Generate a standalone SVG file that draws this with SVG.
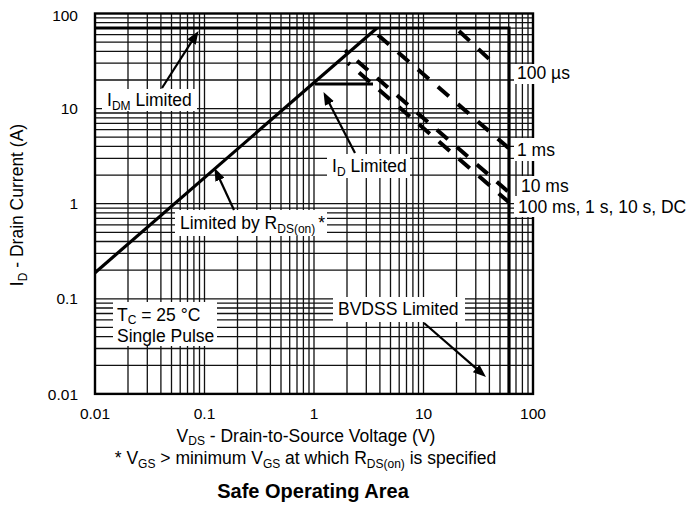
<svg xmlns="http://www.w3.org/2000/svg" width="687" height="508" viewBox="0 0 687 508">
<defs>
<style>
.g{stroke:#111;stroke-width:1.3;fill:none}
.bd{stroke:#000;stroke-width:2.4;fill:none}
.t{font-family:"Liberation Sans",Arial,Helvetica,sans-serif;font-size:17.5px;fill:#000}
.tk{font-family:"Liberation Sans",Arial,Helvetica,sans-serif;font-size:15.5px;fill:#000}
.s{font-size:12px}
.box{fill:#fff;stroke:none}
.cv{stroke:#000;stroke-width:3.2;fill:none}
.ds{stroke:#000;stroke-width:4;fill:none;stroke-dasharray:14.5 11.9}
.ar{stroke:#000;stroke-width:2.2;fill:none;marker-end:url(#ah)}
</style>
<marker id="ah" markerUnits="userSpaceOnUse" markerWidth="14" markerHeight="10" refX="8" refY="5" orient="auto"><path d="M0,0 L13,5 L0,10 z" fill="#000"/></marker>
</defs>
<rect width="687" height="508" fill="#fff"/>
<g id="grid">
<path class="g" d="M128,13.5V393.9M147.3,13.5V393.9M160.9,13.5V393.9M171.5,13.5V393.9M180.2,13.5V393.9M187.5,13.5V393.9M193.9,13.5V393.9M199.5,13.5V393.9M204.5,13.5V393.9M237.5,13.5V393.9M256.8,13.5V393.9M270.4,13.5V393.9M281,13.5V393.9M289.7,13.5V393.9M297,13.5V393.9M303.4,13.5V393.9M309,13.5V393.9M314,13.5V393.9M347,13.5V393.9M366.3,13.5V393.9M379.9,13.5V393.9M390.5,13.5V393.9M399.2,13.5V393.9M406.5,13.5V393.9M412.9,13.5V393.9M418.5,13.5V393.9M423.5,13.5V393.9M456.5,13.5V393.9M475.8,13.5V393.9M489.4,13.5V393.9M500,13.5V393.9M508.7,13.5V393.9M516,13.5V393.9M522.4,13.5V393.9M528,13.5V393.9"/>
<path class="g" d="M95,365.3H533M95,348.5H533M95,336.6H533M95,327.4H533M95,319.9H533M95,313.5H533M95,308H533M95,303.2H533M95,298.8H533M95,270.2H533M95,253.4H533M95,241.5H533M95,232.3H533M95,224.8H533M95,218.4H533M95,212.9H533M95,208.1H533M95,203.7H533M95,175.1H533M95,158.3H533M95,146.4H533M95,137.2H533M95,129.7H533M95,123.3H533M95,117.8H533M95,113H533M95,108.6H533M95,80H533M95,63.2H533M95,51.3H533M95,42.1H533M95,34.6H533M95,28.2H533M95,22.7H533M95,17.9H533"/>
<rect class="bd" x="95" y="13.5" width="438" height="380.4"/>
</g>
<g id="label-boxes">
<rect class="box" x="102" y="89" width="95" height="22"/>
<rect class="box" x="327" y="154" width="83" height="24"/>
<rect class="box" x="175" y="210" width="152" height="26"/>
<rect class="box" x="113" y="302" width="104" height="44"/>
<rect class="box" x="333" y="297" width="132" height="25"/>
<rect class="box" x="514" y="64" width="173" height="20"/>
<rect class="box" x="514" y="138" width="173" height="23"/>
<rect class="box" x="518" y="176" width="169" height="20"/>
<rect class="box" x="514" y="196" width="173" height="21"/>
</g>
<g id="curves">
<path class="cv" d="M95,272.7L377,28"/>
<path class="cv" d="M95,28H509V393.9"/>
<path class="cv" d="M315,84H373"/>
<path class="ds" d="M459,31L491,60.8"/>
<path class="ds" d="M378,35L509,148.4"/>
<path class="ds" style="stroke-dashoffset:10.5" d="M345,50.3L509,192.3"/>
<path class="ds" style="stroke-dashoffset:11.85" d="M348,62.9L509,202.3"/>
</g>
<g id="connectors">
<path class="ar" d="M162,88L195.8,35.2"/>
<path class="ar" d="M355,153L325.8,96.4"/>
<path class="ar" d="M234,210L216.6,172.5"/>
<path class="ar" d="M424,323L482.2,373.7"/>
</g>
<g id="label-idm"><text class="t" x="107" y="106">I<tspan class="s" dy="4">DM</tspan><tspan dy="-4"> Limited</tspan></text></g>
<g id="label-id"><text class="t" x="332" y="172">I<tspan class="s" dy="4">D</tspan><tspan dy="-4"> Limited</tspan></text></g>
<g id="label-rds"><text class="t" x="180" y="229">Limited by R<tspan class="s" dy="4">DS(on)</tspan><tspan dy="-4" dx="3">*</tspan></text></g>
<g id="label-tc"><text class="t" x="117" y="320.5">T<tspan class="s" dy="3">C</tspan><tspan dy="-3"> = 25 °C</tspan></text><text class="t" x="117" y="342">Single Pulse</text></g>
<g id="label-bvdss"><text class="t" x="338" y="315">BVDSS Limited</text></g>
<g id="label-pulses">
<text class="t" x="517" y="79">100 µs</text>
<text class="t" x="517" y="156">1 ms</text>
<text class="t" x="521" y="192">10 ms</text>
<text class="t" x="518" y="213">100 ms, 1 s, 10 s, DC</text>
</g>
<g id="axis-y">
<text class="tk" x="78" y="20.5" text-anchor="end">100</text>
<text class="tk" x="78" y="114.2" text-anchor="end">10</text>
<text class="tk" x="78" y="209.3" text-anchor="end">1</text>
<text class="tk" x="78" y="304.4" text-anchor="end">0.1</text>
<text class="tk" x="78" y="399.5" text-anchor="end">0.01</text>
<text class="t" text-anchor="middle" transform="translate(23,205) rotate(-90)">I<tspan class="s" dy="4">D</tspan><tspan dy="-4"> - Drain Current (A)</tspan></text>
</g>
<g id="axis-x">
<text class="tk" x="95" y="419" text-anchor="middle">0.01</text>
<text class="tk" x="204.5" y="419" text-anchor="middle">0.1</text>
<text class="tk" x="314" y="419" text-anchor="middle">1</text>
<text class="tk" x="423.5" y="419" text-anchor="middle">10</text>
<text class="tk" x="533" y="419" text-anchor="middle">100</text>
<text class="t" x="306" y="442" text-anchor="middle">V<tspan class="s" dy="3">DS</tspan><tspan dy="-3"> - Drain-to-Source Voltage (V)</tspan></text>
<text class="t" x="305.5" y="464" text-anchor="middle">* V<tspan class="s" dy="4">GS</tspan><tspan dy="-4"> &gt; minimum V</tspan><tspan class="s" dy="4">GS</tspan><tspan dy="-4"> at which R</tspan><tspan class="s" dy="4">DS(on)</tspan><tspan dy="-4"> is specified</tspan></text>
</g>
<g id="title"><text class="t" x="313" y="498" text-anchor="middle" font-weight="bold" style="font-size:20px">Safe Operating Area</text></g>
</svg>
